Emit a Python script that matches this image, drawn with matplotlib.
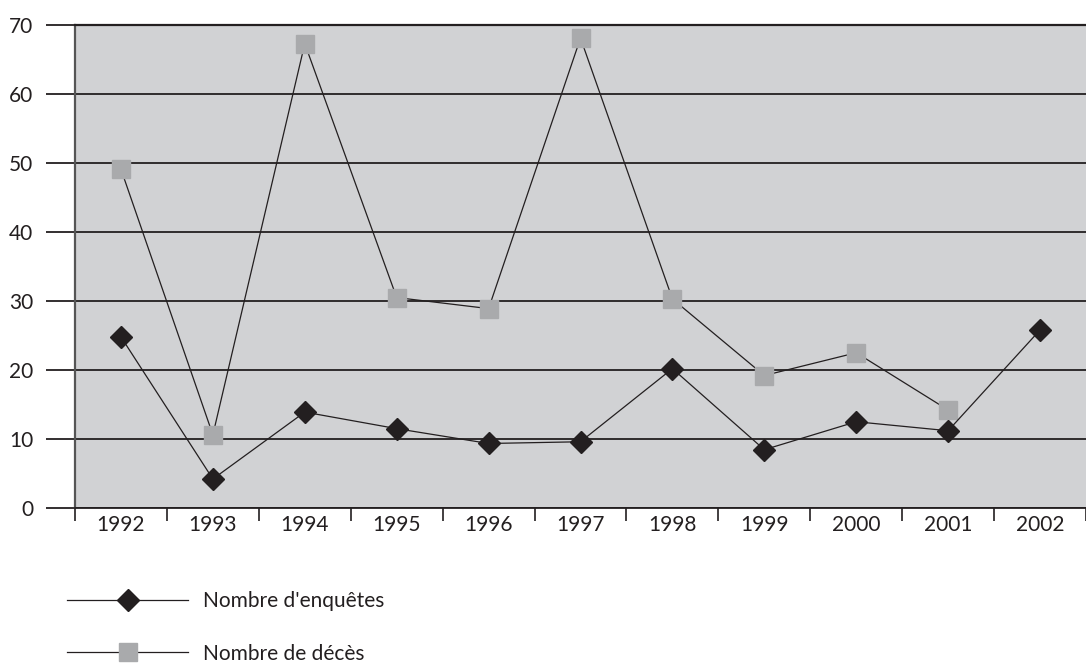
import numpy as np
import matplotlib.pyplot as plt

plt.rcParams['font.family'] = ['Lato', 'DejaVu Sans']

years = ['1992', '1993', '1994', '1995', '1996', '1997', '1998', '1999', '2000', '2001', '2002']
enquetes = [24.8, 4.2, 13.9, 11.5, 9.35, 9.6, 20.2, 8.45, 12.5, 11.2, 25.8]
deces = [49.1, 10.6, 67.3, 30.5, 28.9, 68.1, 30.3, 19.2, 22.5, 14.2, np.nan]

W, H = 1086, 664
fig = plt.figure(figsize=(W / 100, H / 100), dpi=100)
ax = fig.add_axes([75 / W, 1 - 508 / H, 1 - 75 / W, (508 - 25) / H])
ax.set_facecolor('#d1d2d4')

x = np.arange(len(years))
ax.plot(x, enquetes, color='#231f20', lw=0.9, marker='D', ms=11.5,
        mfc='#231f20', mec='#231f20', label="Nombre d'enquêtes", zorder=4)
ax.plot(x, deces, color='#231f20', lw=0.9, marker='s', ms=13.5,
        mfc='#a9aaac', mec='#a9aaac', label='Nombre de décès', zorder=3)

ax.set_xlim(-0.5, len(years) - 0.5)
ax.set_ylim(0, 70)
ax.set_yticks(range(0, 71, 10))
ax.grid(axis='y', color='#231f20', lw=1.3)
ax.set_axisbelow(True)

ax.set_xticks(x)
ax.set_xticklabels(years, fontsize=15, color='#231f20')
ax.set_xticks(np.arange(-0.5, len(years), 1), minor=True)
ax.tick_params(axis='x', which='major', length=0, pad=5)
ax.tick_params(axis='x', which='minor', length=9, width=1.2, color='#231f20', direction='out')
ax.tick_params(axis='y', length=21, width=1.3, color='#231f20', labelsize=15,
               labelcolor='#231f20', pad=9)

ax.spines['right'].set_visible(False)
ax.spines['top'].set_color('#231f20')
ax.spines['top'].set_linewidth(1.6)
ax.spines['bottom'].set_color('#231f20')
ax.spines['bottom'].set_linewidth(1.3)
ax.spines['left'].set_color('#555555')
ax.spines['left'].set_linewidth(1.6)

fig.legend(loc='upper left', bbox_to_anchor=(57 / W, 1 - 581 / H), frameon=False,
           fontsize=15, handlelength=5.8, handletextpad=0.7, labelspacing=1.55,
           borderpad=0, labelcolor='#231f20')

fig.savefig('out.png', dpi=100)
